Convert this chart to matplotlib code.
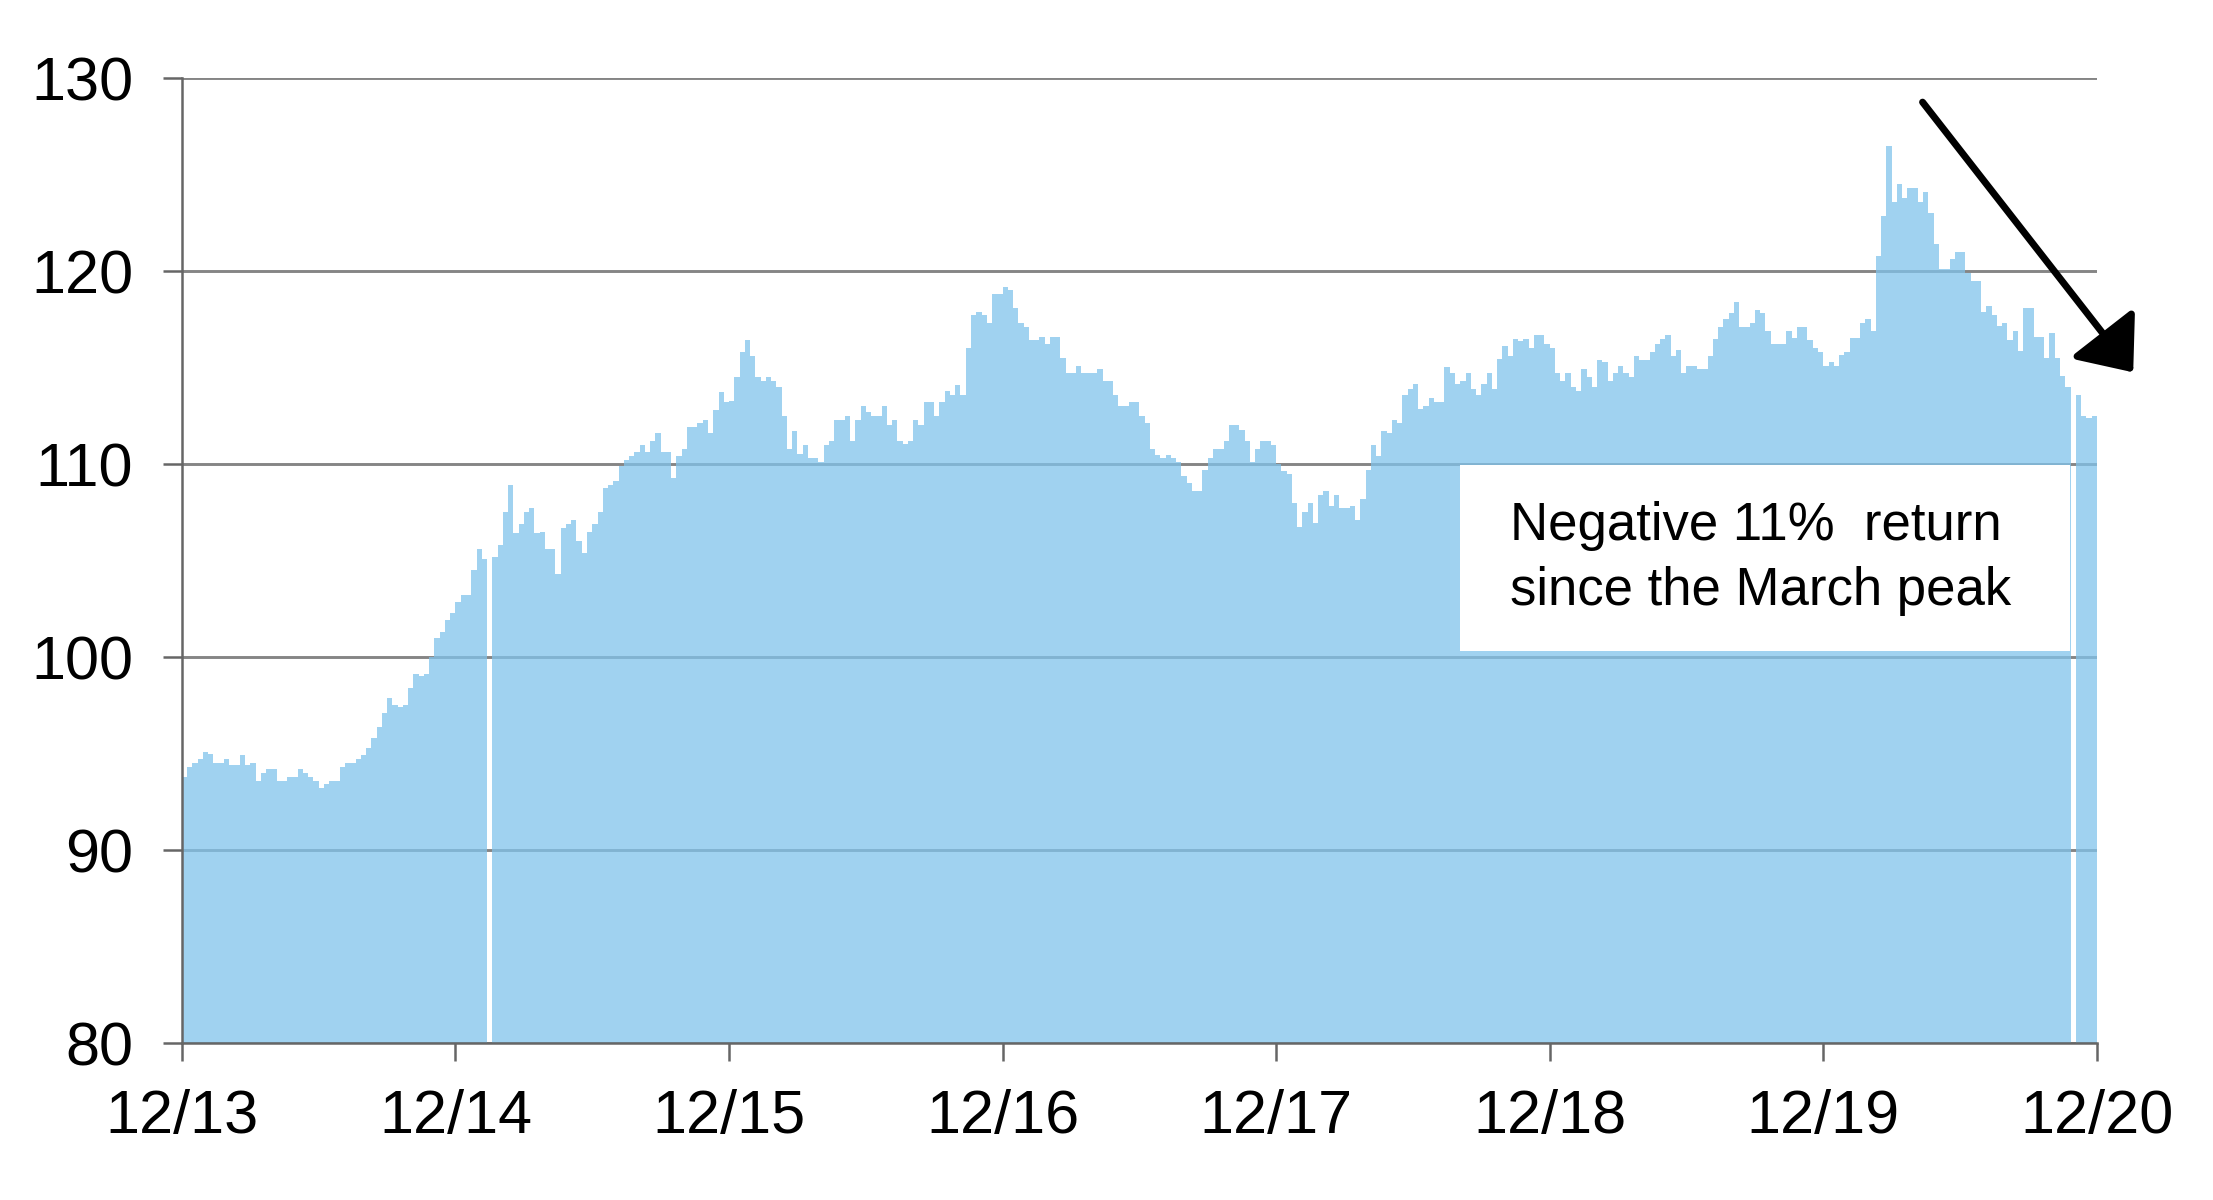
import numpy as np
import matplotlib
matplotlib.use("Agg")
import matplotlib.pyplot as plt
from matplotlib.patches import Rectangle

plt.rcParams['font.family'] = ['Liberation Sans', 'DejaVu Sans']

'''
    DATA (weekly index level, one list per calendar year, 52 weeks each)
'''
nan = np.nan
y2014 = [93.8, 94.3, 94.5, 94.7, 95.1, 95.0, 94.5, 94.5, 94.7, 94.4,
         94.4, 94.9, 94.4, 94.5, 93.6, 94.0, 94.2, 94.2, 93.6, 93.6,
         93.8, 93.8, 94.2, 94.0, 93.8, 93.6, 93.2, 93.4, 93.6, 93.6,
         94.3, 94.5, 94.5, 94.7, 94.9, 95.3, 95.8, 96.4, 97.1, 97.9,
         97.5, 97.4, 97.5, 98.4, 99.1, 99.0, 99.1, 100.0, 101.0, 101.3,
         101.9, 102.3]
y2015 = [102.85, 103.2, 103.2, 104.5, 105.6, 105.1, nan, 105.2, 105.8, 107.5,
         108.9, 106.4, 106.9, 107.5, 107.7, 106.4, 106.5, 105.6, 105.6, 104.3,
         106.7, 106.9, 107.1, 106.0, 105.4, 106.5, 106.9, 107.5, 108.75, 108.9,
         109.1, 109.9, 110.2, 110.4, 110.6, 111.0, 110.6, 111.2, 111.6, 110.6,
         110.6, 109.3, 110.4, 110.8, 111.9, 111.9, 112.1, 112.3, 111.6, 112.8,
         113.75, 113.2]
y2016 = [113.25, 114.5, 115.8, 116.4, 115.6, 114.5, 114.3, 114.5, 114.3, 114.0,
         112.5, 110.8, 111.7, 110.5, 111.0, 110.3, 110.3, 110.1, 111.0, 111.2,
         112.3, 112.3, 112.5, 111.2, 112.3, 113.0, 112.7, 112.5, 112.5, 113.0,
         112.0, 112.3, 111.2, 111.05, 111.2, 112.3, 112.0, 113.2, 113.2, 112.5,
         113.2, 113.8, 113.6, 114.1, 113.6, 116.0, 117.7, 117.9, 117.7, 117.3,
         118.8, 118.8]
y2017 = [119.15, 119.0, 118.1, 117.3, 117.1, 116.4, 116.4, 116.6, 116.2, 116.6,
         116.6, 115.5, 114.7, 114.7, 115.1, 114.7, 114.7, 114.7, 114.9, 114.3,
         114.3, 113.6, 113.0, 113.0, 113.2, 113.2, 112.5, 112.1, 110.8, 110.45,
         110.3, 110.45, 110.3, 110.1, 109.4, 109.0, 108.6, 108.6, 109.7, 110.3,
         110.8, 110.8, 111.2, 112.0, 112.0, 111.75, 111.2, 110.1, 110.8, 111.2,
         111.2, 111.0]
y2018 = [110.0, 109.65, 109.5, 108.0, 106.75, 107.5, 108.0, 106.95, 108.4, 108.6,
         107.8, 108.4, 107.7, 107.7, 107.8, 107.1, 108.2, 109.7, 111.0, 110.4,
         111.7, 111.6, 112.3, 112.1, 113.6, 113.9, 114.15, 112.85, 113.0, 113.4,
         113.2, 113.2, 115.05, 114.7, 114.15, 114.3, 114.7, 113.9, 113.6, 114.15,
         114.7, 113.9, 115.45, 116.1, 115.6, 116.5, 116.35, 116.5, 116.0, 116.7,
         116.7, 116.2]
y2019 = [116.0, 114.7, 114.3, 114.7, 114.0, 113.8, 114.9, 114.5, 114.0, 115.4,
         115.3, 114.3, 114.7, 115.1, 114.7, 114.5, 115.6, 115.4, 115.4, 115.8,
         116.2, 116.5, 116.7, 115.6, 115.9, 114.7, 115.1, 115.1, 114.9, 114.9,
         115.6, 116.5, 117.1, 117.5, 117.8, 118.4, 117.1, 117.1, 117.3, 118.0,
         117.8, 116.9, 116.2, 116.2, 116.2, 116.9, 116.55, 117.1, 117.1, 116.4,
         116.0, 115.8]
y2020 = [115.1, 115.3, 115.1, 115.65, 115.8, 116.55, 116.55, 117.3, 117.5, 116.9,
         120.8, 122.85, 126.5, 123.6, 124.5, 123.8, 124.3, 124.3, 123.6, 124.1,
         123.0, 121.4, 120.1, 120.1, 120.6, 121.0, 121.0, 119.9, 119.5, 119.5,
         117.9, 118.2, 117.7, 117.15, 117.3, 116.4, 116.9, 115.85, 118.1, 118.1,
         116.6, 116.6, 115.5, 116.8, 115.5, 114.55, 114.0, nan, 113.6, 112.5,
         112.4, 112.5]

tick_labels = ["12/13", "12/14", "12/15", "12/16", "12/17", "12/18", "12/19", "12/20"]
y_ticks = [80, 90, 100, 110, 120, 130]
note_text = "Negative 11%  return\nsince the March peak"

'''
    STYLE
'''
BAR_COLOR = '#80C3EB'
GRID_COLOR = '#858585'
AXIS_COLOR = '#666666'
WEEKS_PER_YEAR = 52

values = np.array(y2014 + y2015 + y2016 + y2017 + y2018 + y2019 + y2020)
weeks = np.arange(len(values))

fig = plt.figure(figsize=(22.13, 12), dpi=100)
ax = fig.add_axes([0.0822, 0.1308, 0.8653, 0.8042])

ax.bar(weeks, values, width=1.0, align='edge', color=BAR_COLOR, alpha=0.75,
       linewidth=0, antialiased=False, zorder=1)

ax.set_xlim(0, len(values))
ax.set_ylim(80, 130)
ax.set_yticks(y_ticks)
ax.set_xticks(np.arange(0, len(values) + 1, WEEKS_PER_YEAR))
ax.set_xticklabels(tick_labels)

ax.set_axisbelow(True)
ax.yaxis.grid(True, color=GRID_COLOR, linewidth=2.1)
ax.xaxis.grid(False)

for side in ['top', 'right']:
    ax.spines[side].set_visible(False)
for side in ['left', 'bottom']:
    ax.spines[side].set_color(AXIS_COLOR)
    ax.spines[side].set_linewidth(1.8)
    ax.spines[side].set_zorder(3)

ax.tick_params(axis='y', length=14, width=1.8, color=AXIS_COLOR, pad=21,
               labelsize=44, labelcolor='black')
ax.tick_params(axis='x', length=13, width=1.8, color=AXIS_COLOR, pad=20,
               labelsize=44, labelcolor='black')

# white note box sitting over the bars
ax.add_patch(Rectangle((242.9, 100.3), 116.0, 9.65, facecolor='white',
                       edgecolor='none', zorder=2))
ax.text(252.4, 105.1, note_text, fontsize=38, ha='left', va='center',
        linespacing=1.38, zorder=4)

ax.annotate('', xy=(1.019, 0.695), xytext=(0.909, 0.975),
            xycoords='axes fraction', textcoords='axes fraction',
            annotation_clip=False,
            arrowprops=dict(arrowstyle='-|>,head_length=0.75,head_width=0.62',
                            mutation_scale=40, lw=5, color='black',
                            shrinkA=0, shrinkB=0))

plt.savefig('out.png', dpi=100)
